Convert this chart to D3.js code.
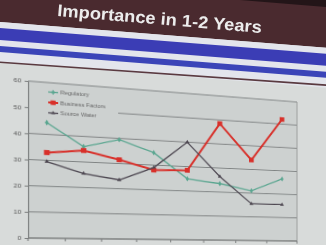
<!DOCTYPE html>
<html>
<head>
<meta charset="utf-8">
<title>Importance in 1-2 Years</title>
<script src="https://cdn.jsdelivr.net/npm/d3@7"></script>
<style>
  body { margin:0; width:326px; height:245px; overflow:hidden; background:#d8dbda; font-family:'Liberation Sans', Arial, sans-serif; }
  #slide { position:absolute; left:0; top:0; width:326px; height:245px; filter:blur(0.35px); }
  .layer { position:absolute; left:0; top:0; width:326px; height:245px; }
  #chart { transform-origin:0 0; }
</style>
</head>
<body>
<div id="slide">
  <svg id="head" class="layer" width="326" height="245"></svg>
  <div id="chart" class="layer"><svg width="326" height="245"></svg></div>
</div>
<script>
// data (x labels are cut off below the frame)
var categories = ['c1','c2','c3','c4','c5','c6','c7','c8'];
var regulatory      = [44.5, 36, 39.5, 35, 25, 23.5, 21, 26.5];
var businessFactors = [33, 34.5, 31.5, 28, 28.5, 48.5, 34, 52];
var sourceWater     = [29.5, 25.5, 23.5, 29, 40, 26.5, 15.5, 15.5];
var seriesNames = ['Regulatory', 'Business Factors', 'Source Water'];
var yTicks = [0, 10, 20, 30, 40, 50, 60];
var title = 'Importance in 1-2 Years';

// ---- slide header (photographed at an angle) ----
var head = d3.select('#head');
var band = head.append('g').attr('transform', 'skewY(4.5)');
band.append('rect').attr('x', -10).attr('y', -60).attr('width', 350).attr('height', 82).attr('fill', '#4a2a2f');
band.append('rect').attr('x', -10).attr('y', 22).attr('width', 350).attr('height', 40).attr('fill', '#e3e5ec');
band.append('rect').attr('x', -10).attr('y', 28).attr('width', 350).attr('height', 12).attr('fill', '#3b3db5');
band.append('rect').attr('x', -10).attr('y', 46).attr('width', 350).attr('height', 6).attr('fill', '#3b44b8');
head.append('g').attr('transform', 'skewY(4)')
  .append('rect').attr('x', -10).attr('y', 61.5).attr('width', 350).attr('height', 1.6).attr('fill', '#5a3a40');
head.append('polygon').attr('points', '240,0 326,0 326,7').attr('fill', '#231518');

head.append('text')
  .attr('transform', 'translate(57,16) rotate(4.75)')
  .attr('font-size', 17).attr('font-weight', 'bold')
  .attr('fill', '#ececec')
  .attr('textLength', 205).attr('lengthAdjust', 'spacingAndGlyphs')
  .text(title);

// ---- chart drawn flat, then put in perspective ----
var L = 28, R = 297, T = 81, B = 238;
var svg = d3.select('#chart svg');

var x = d3.scalePoint().domain(categories).range([L, R]).padding(0.5);
var y = d3.scaleLinear().domain([0, 60]).range([B, T]);
var step = x.step();

svg.append('rect').attr('x', L).attr('y', T).attr('width', R - L).attr('height', B - T).attr('fill', '#cdd1d0');

svg.append('g').selectAll('line').data(yTicks).enter().append('line')
  .attr('x1', L).attr('x2', R)
  .attr('y1', function(d){ return y(d); }).attr('y2', function(d){ return y(d); })
  .attr('stroke', '#808484').attr('stroke-width', 1);

svg.append('line').attr('x1', R).attr('x2', R).attr('y1', T).attr('y2', B).attr('stroke', '#9a9c9c');

var yAxis = svg.append('g').attr('transform', 'translate(' + L + ',0)')
  .call(d3.axisLeft(y).tickValues(yTicks).tickSize(3).tickPadding(3));
yAxis.select('.domain').attr('stroke', '#7c7f7f');
yAxis.selectAll('.tick line').attr('stroke', '#7c7f7f');
yAxis.selectAll('text').attr('font-size', 6).attr('fill', '#555').attr('font-family', 'Liberation Sans, Arial, sans-serif');

// x ticks sit between categories
var xb = d3.range(categories.length + 1).map(function(i){ return L + i * step; });
svg.append('g').selectAll('line').data(xb).enter().append('line')
  .attr('x1', function(d){ return d; }).attr('x2', function(d){ return d; })
  .attr('y1', B).attr('y2', B + 3).attr('stroke', '#7c7f7f');
svg.append('line').attr('x1', L).attr('x2', R).attr('y1', B).attr('y2', B).attr('stroke', '#7c7f7f');

var series = [
  { name: seriesNames[0], values: regulatory,      color: '#5aa690', width: 1.3, shape: d3.symbolDiamond,  size: 10 },
  { name: seriesNames[1], values: businessFactors, color: '#d8302a', width: 2,   shape: d3.symbolSquare,   size: 26 },
  { name: seriesNames[2], values: sourceWater,     color: '#4e4852', width: 1.3, shape: d3.symbolTriangle, size: 8 }
];

var line = d3.line()
  .x(function(d, i){ return x(categories[i]); })
  .y(function(d){ return y(d); });

// legend (its box hides the gridline behind it)
var leg = svg.append('g');
leg.append('rect').attr('x', L + 1).attr('y', T + 3).attr('width', 110 - L).attr('height', 34).attr('fill', '#cdd1d0');
series.forEach(function(s, k){
  var ly = 90.5 + k * 10.5;
  leg.append('line').attr('x1', 46).attr('x2', 55).attr('y1', ly).attr('y2', ly)
    .attr('stroke', s.color).attr('stroke-width', s.width);
  leg.append('path').attr('d', d3.symbol().type(s.shape).size(s.size * 0.8)())
    .attr('transform', 'translate(50.5,' + ly + ')').attr('fill', s.color);
  leg.append('text').attr('x', 57).attr('y', ly + 2).attr('font-size', 5.5).attr('fill', '#666')
    .text(s.name);
});

series.forEach(function(s){
  svg.append('path').datum(s.values).attr('d', line)
    .attr('fill', 'none').attr('stroke', s.color).attr('stroke-width', s.width);
  svg.append('g').selectAll('path').data(s.values).enter().append('path')
    .attr('d', d3.symbol().type(s.shape).size(s.size)())
    .attr('transform', function(d, i){ return 'translate(' + x(categories[i]) + ',' + y(d) + ')'; })
    .attr('fill', s.color);
});

// perspective: map the flat plot rectangle onto the photographed quad
function solve(A, b) {
  var n = b.length;
  for (var i = 0; i < n; i++) {
    var p = i;
    for (var r = i + 1; r < n; r++) if (Math.abs(A[r][i]) > Math.abs(A[p][i])) p = r;
    var t = A[i]; A[i] = A[p]; A[p] = t;
    var tb = b[i]; b[i] = b[p]; b[p] = tb;
    for (var r2 = i + 1; r2 < n; r2++) {
      var f = A[r2][i] / A[i][i];
      for (var c = i; c < n; c++) A[r2][c] -= f * A[i][c];
      b[r2] -= f * b[i];
    }
  }
  var xs = new Array(n);
  for (var i2 = n - 1; i2 >= 0; i2--) {
    var s = b[i2];
    for (var c2 = i2 + 1; c2 < n; c2++) s -= A[i2][c2] * xs[c2];
    xs[i2] = s / A[i2][i2];
  }
  return xs;
}
function homography(src, dst) {
  var A = [], b = [];
  src.forEach(function(p, k){
    var X = p[0], Y = p[1], u = dst[k][0], v = dst[k][1];
    A.push([X, Y, 1, 0, 0, 0, -X * u, -Y * u]); b.push(u);
    A.push([0, 0, 0, X, Y, 1, -X * v, -Y * v]); b.push(v);
  });
  var h = solve(A, b);
  return 'matrix3d(' + [h[0], h[3], 0, h[6], h[1], h[4], 0, h[7], 0, 0, 1, 0, h[2], h[5], 0, 1].join(',') + ')';
}
document.getElementById('chart').style.transform = homography(
  [[L, T], [R, T], [R, B], [L, B]],
  [[28, 81], [297, 102], [297, 241], [28, 238]]
);
</script>
</body>
</html>
